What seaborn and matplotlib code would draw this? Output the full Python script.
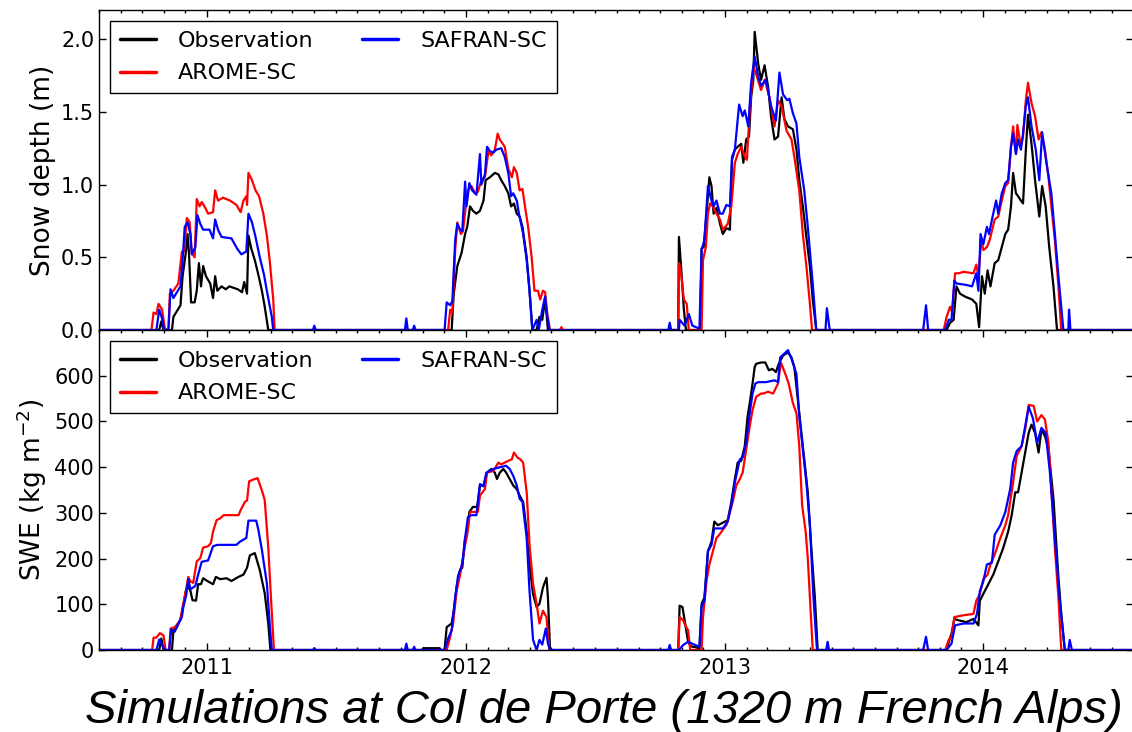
import matplotlib
matplotlib.use("Agg")
import matplotlib.pyplot as plt
import matplotlib.dates as mdates
import pandas as pd
import seaborn as sns

SERIES = ["Observation", "AROME-SC", "SAFRAN-SC"]
COLORS = ["black", "red", "blue"]
SEASON_STARTS = ["2010-10-01", "2011-10-01", "2012-10-01", "2013-10-01"]
X_START, X_END = "2010-08-01", "2014-08-01"
TITLE = "Simulations at Col de Porte (1320 m French Alps)"

# Snow depth (m): (days since 1 October, value) for each winter
obs_hs_1011 = [(24, 0), (27, .06), (30, 0), (42, 0), (44, .09), (49, .13), (54, .17), (57, .37), (62, .55), (64, .66),
               (66, .53), (69, .19), (74, .19), (77, .27), (80, .46), (83, .30), (86, .44), (90, .37), (96, .32),
               (100, .22), (103, .37), (106, .27), (112, .30), (118, .28), (123, .30), (129, .29), (135, .28),
               (141, .26), (144, .33), (148, .25), (150, .65), (154, .56), (159, .48), (164, .38), (169, .27),
               (173, .16), (178, 0)]
arome_hs_1011 = [(13, 0), (16, .12), (20, .11), (23, .18), (28, .14), (32, .01), (37, 0), (39, .25), (44, .27),
                 (51, .32), (56, .54), (59, .54), (63, .77), (67, .74), (70, .53), (74, .50), (77, .90), (81, .85),
                 (84, .88), (89, .84), (93, .80), (100, .81), (103, .96), (107, .89), (114, .91), (124, .89),
                 (133, .86), (139, .81), (143, .89), (147, .92), (148, .86), (150, 1.08), (155, 1.03), (160, .96),
                 (165, .92), (171, .80), (176, .65), (180, .48), (185, .21), (187, 0)]
safran_hs_1011 = [(20, 0), (24, .14), (28, .08), (31, 0), (37, 0), (40, .28), (44, .22), (49, .26), (54, .30),
                  (57, .48), (60, .71), (64, .74), (68, .66), (70, .52), (75, .57), (78, .79), (82, .73), (86, .69),
                  (95, .69), (100, .63), (103, .76), (107, .69), (112, .64), (126, .63), (134, .56), (140, .52),
                  (147, .54), (150, .80), (155, .74), (160, .64), (166, .50), (172, .38), (176, .27), (183, .09),
                  (185, 0), (241, 0), (243, .03), (245, 0)]

obs_hs_1112 = [(72, 0), (75, .25), (80, .44), (86, .53), (91, .66), (94, .71), (98, .85), (102, .82), (107, .80),
               (112, .82), (117, .89), (120, 1.03), (126, 1.05), (133, 1.08), (138, 1.07), (142, 1.03), (147, .99),
               (152, .94), (156, .85), (160, .87), (164, .80), (168, .78), (172, .71), (178, .50), (182, .27),
               (186, 0), (192, 0), (196, .09), (200, .07), (204, .21), (206, .11), (208, 0)]
arome_hs_1112 = [(67, 0), (70, .14), (73, .12), (77, .55), (80, .74), (85, .66), (88, .68), (92, .85), (95, .96),
                 (100, .99), (105, .94), (109, .95), (114, 1.03), (119, 1.05), (124, 1.23), (128, 1.20), (133, 1.24),
                 (137, 1.35), (140, 1.31), (147, 1.26), (152, 1.11), (157, 1.05), (160, 1.12), (164, 1.08),
                 (168, .96), (172, .97), (175, .87), (180, .71), (185, .50), (189, .27), (194, .27), (197, .21),
                 (201, .27), (204, .26), (207, .11), (211, 0), (225, 0), (227, .02), (229, 0)]
safran_hs_1112 = [(6, 0), (8, .08), (10, 0), (17, 0), (19, .03), (21, 0), (62, 0), (65, .19), (70, .17), (73, .20),
                  (77, .62), (80, .73), (84, .69), (87, .68), (91, 1.02), (93, .85), (97, 1.01), (101, .96),
                  (107, .93), (112, 1.21), (114, 1.00), (119, 1.07), (122, 1.26), (126, 1.23), (131, 1.22),
                  (135, 1.24), (142, 1.25), (147, 1.19), (152, 1.08), (156, .92), (159, .94), (164, .89), (167, .80),
                  (171, .71), (173, .66), (178, .48), (182, .27), (186, 0), (192, .07), (195, 0), (200, .14),
                  (204, .23), (207, .10), (210, 0)]

obs_hs_1213 = [(26, 0), (27, .64), (30, .44), (34, .14), (37, 0), (57, 0), (59, .56), (62, .57), (66, .80),
               (70, 1.05), (73, .99), (76, .80), (80, .84), (85, .73), (89, .66), (94, .70), (99, .69), (102, 1.17),
               (106, 1.24), (110, 1.26), (115, 1.28), (118, 1.15), (122, 1.31), (126, 1.33), (129, 1.60),
               (132, 1.72), (134, 2.05), (139, 1.83), (143, 1.72), (148, 1.82), (153, 1.67), (157, 1.47),
               (162, 1.31), (167, 1.33), (172, 1.60), (176, 1.45), (181, 1.40), (188, 1.38), (193, 1.24),
               (197, 1.03), (202, .85), (207, .64), (212, .44), (216, .21), (221, 0)]
arome_hs_1213 = [(26, 0), (27, .46), (30, .39), (34, .21), (38, .18), (41, 0), (59, 0), (61, .48), (65, .57),
                 (68, .80), (71, .87), (75, .85), (80, .80), (85, .76), (89, .69), (96, .73), (101, .85), (106, 1.15),
                 (110, 1.21), (115, 1.26), (120, 1.19), (123, 1.17), (127, 1.51), (132, 1.81), (136, 1.76),
                 (143, 1.65), (148, 1.72), (155, 1.60), (162, 1.40), (167, 1.58), (172, 1.54), (179, 1.37),
                 (186, 1.31), (190, 1.19), (197, .96), (202, .66), (207, .44), (212, .18), (215, 0)]
safran_hs_1213 = [(12, 0), (14, .05), (16, 0), (27, 0), (28, .07), (35, .03), (41, .11), (46, .03), (56, .01),
                  (59, .55), (63, .62), (68, .99), (73, .89), (76, .85), (80, .89), (85, .80), (89, .80), (94, .86),
                  (99, .85), (102, 1.19), (106, 1.24), (112, 1.55), (117, 1.47), (120, 1.51), (125, 1.40),
                  (129, 1.70), (134, 1.88), (139, 1.74), (143, 1.68), (150, 1.72), (157, 1.54), (164, 1.44),
                  (169, 1.77), (174, 1.62), (180, 1.58), (183, 1.59), (188, 1.49), (193, 1.42), (197, 1.19),
                  (204, .96), (209, .71), (216, .32), (221, 0), (234, 0), (236, .15), (240, 0)]

obs_hs_1314 = [(40, 0), (45, .05), (50, .07), (54, .30), (59, .25), (66, .23), (76, .21), (82, .18), (86, .02),
               (90, .37), (94, .25), (98, .41), (102, .30), (108, .46), (113, .48), (118, .57), (123, .66),
               (127, .69), (131, .85), (134, 1.08), (138, .94), (141, .92), (145, .89), (148, .87), (152, 1.24),
               (155, 1.48), (160, 1.28), (165, 1.03), (171, .78), (175, .99), (180, .85), (185, .57), (191, .30),
               (196, 0)]
arome_hs_1314 = [(36, 0), (40, .09), (45, .16), (48, .12), (52, .39), (57, .39), (64, .40), (78, .39), (82, .45),
                 (85, .37), (89, .62), (92, .55), (97, .57), (101, .62), (108, .76), (113, .78), (118, .89),
                 (123, .99), (127, 1.01), (131, 1.26), (134, 1.40), (138, 1.21), (140, 1.41), (145, 1.26),
                 (148, 1.33), (152, 1.58), (155, 1.70), (160, 1.56), (165, 1.47), (170, 1.31), (174, 1.36),
                 (179, 1.24), (184, 1.05), (188, .85), (193, .62), (198, .30), (202, 0)]
safran_hs_1314 = [(7, 0), (11, .17), (14, 0), (38, 0), (43, .07), (47, .07), (51, .34), (54, .32), (68, .31),
                  (76, .30), (82, .39), (85, .27), (88, .66), (92, .59), (97, .71), (100, .66), (105, .78),
                  (110, .89), (113, .80), (118, .94), (123, 1.01), (127, 1.03), (131, 1.26), (134, 1.35),
                  (138, 1.21), (141, 1.31), (145, 1.24), (148, 1.35), (152, 1.54), (155, 1.60), (160, 1.40),
                  (166, 1.24), (171, 1.03), (175, 1.36), (181, 1.15), (188, .94), (193, .66), (198, .37), (205, 0),
                  (212, 0), (213, .14), (215, 0)]

# Snow water equivalent (kg m-2): (days since 1 October, value) for each winter
obs_swe_1011 = [(24, 0), (27, 25), (30, 0), (42, 0), (44, 43), (49, 50), (54, 68), (58, 97), (62, 133), (65, 138),
                (68, 130), (71, 109), (76, 108), (79, 144), (83, 144), (86, 157), (93, 150), (100, 144), (104, 160),
                (110, 155), (119, 157), (126, 151), (136, 160), (143, 165), (148, 180), (152, 207), (159, 212),
                (166, 175), (173, 124), (178, 58), (181, 0)]
arome_swe_1011 = [(14, 0), (16, 27), (20, 27), (25, 37), (30, 32), (33, 0), (38, 0), (40, 47), (46, 50), (54, 65),
                  (57, 94), (62, 133), (65, 160), (68, 150), (72, 147), (77, 194), (82, 201), (86, 224), (93, 227),
                  (97, 234), (100, 259), (105, 284), (110, 288), (115, 295), (136, 295), (139, 306), (145, 324),
                  (148, 327), (151, 369), (157, 373), (163, 376), (169, 349), (173, 328), (178, 225), (182, 109),
                  (186, 0)]
safran_swe_1011 = [(20, 0), (24, 23), (28, 11), (32, 0), (38, 0), (41, 45), (46, 40), (51, 58), (56, 72), (58, 94),
                   (62, 119), (65, 155), (68, 133), (75, 140), (79, 165), (84, 193), (93, 196), (100, 227),
                   (106, 230), (133, 230), (138, 237), (147, 245), (150, 283), (161, 283), (164, 263), (169, 219),
                   (176, 146), (180, 58), (183, 0), (241, 0), (243, 4), (245, 0)]

obs_swe_1112 = [(30, 0), (32, 4), (55, 4), (57, 0), (62, 0), (65, 50), (72, 58), (75, 86), (79, 137), (84, 176),
                (87, 180), (91, 245), (94, 259), (97, 302), (102, 313), (108, 313), (112, 360), (117, 360),
                (122, 388), (128, 396), (133, 388), (136, 374), (140, 388), (145, 396), (149, 388), (154, 374),
                (159, 360), (164, 352), (168, 338), (173, 324), (178, 259), (182, 187), (187, 122), (192, 94),
                (196, 101), (201, 137), (206, 158), (208, 115), (211, 0)]
arome_swe_1112 = [(65, 0), (70, 29), (74, 58), (79, 129), (84, 165), (91, 230), (94, 252), (98, 302), (109, 302),
                  (112, 338), (119, 352), (122, 388), (131, 392), (138, 410), (142, 406), (152, 414), (157, 417),
                  (160, 432), (165, 421), (169, 417), (173, 410), (178, 345), (182, 230), (187, 144), (192, 101),
                  (196, 58), (201, 86), (206, 72), (210, 0)]
safran_swe_1112 = [(6, 0), (8, 14), (10, 0), (17, 0), (19, 7), (21, 0), (62, 0), (67, 25), (72, 43), (77, 115),
                   (81, 162), (87, 187), (91, 245), (95, 291), (100, 295), (107, 295), (112, 363), (117, 358),
                   (121, 388), (131, 396), (138, 399), (149, 403), (154, 396), (159, 381), (164, 360), (168, 331),
                   (172, 324), (178, 245), (182, 129), (187, 22), (192, 0), (196, 22), (200, 12), (205, 47),
                   (208, 14), (211, 0)]

obs_swe_1213 = [(26, 0), (28, 97), (32, 94), (35, 65), (40, 18), (44, 8), (56, 4), (59, 101), (63, 115), (68, 216),
                (73, 237), (77, 281), (82, 273), (87, 277), (92, 281), (96, 284), (101, 324), (106, 374), (110, 410),
                (115, 414), (120, 446), (124, 511), (127, 540), (131, 583), (134, 619), (136, 626), (143, 629),
                (149, 629), (154, 612), (159, 615), (164, 608), (168, 626), (174, 644), (181, 651), (186, 640),
                (190, 619), (195, 547), (200, 475), (204, 417), (209, 345), (214, 223), (219, 115), (223, 0)]
arome_swe_1213 = [(26, 0), (28, 72), (33, 65), (36, 54), (40, 43), (43, 0), (59, 0), (61, 72), (66, 151), (70, 187),
                  (75, 216), (80, 245), (84, 252), (89, 263), (94, 273), (99, 302), (103, 324), (108, 360),
                  (113, 374), (117, 388), (122, 439), (127, 489), (131, 525), (136, 554), (143, 561), (146, 561),
                  (153, 565), (160, 561), (167, 583), (171, 629), (178, 601), (182, 583), (188, 540), (193, 518),
                  (197, 446), (201, 317), (206, 259), (209, 201), (212, 115), (216, 0)]
safran_swe_1213 = [(12, 0), (14, 11), (16, 0), (27, 0), (33, 11), (40, 18), (47, 13), (56, 7), (59, 94), (63, 108),
                   (68, 216), (73, 230), (77, 266), (84, 266), (89, 266), (96, 281), (101, 317), (106, 367),
                   (113, 417), (117, 421), (122, 453), (127, 518), (131, 561), (135, 583), (139, 586), (150, 586),
                   (162, 590), (167, 586), (170, 640), (175, 647), (181, 656), (186, 637), (193, 604), (197, 511),
                   (202, 439), (207, 367), (212, 273), (217, 115), (222, 0), (235, 0), (237, 18), (239, 0)]

obs_swe_1314 = [(40, 0), (44, 22), (47, 36), (51, 68), (57, 65), (68, 61), (78, 68), (85, 54), (87, 108), (94, 129),
                (99, 144), (106, 165), (113, 194), (120, 223), (127, 259), (132, 295), (137, 345), (141, 345),
                (146, 388), (151, 432), (156, 475), (160, 493), (165, 475), (170, 432), (174, 482), (179, 468),
                (184, 439), (191, 331), (198, 158), (202, 79), (207, 0)]
arome_swe_1314 = [(38, 0), (43, 22), (47, 29), (51, 72), (64, 76), (78, 79), (82, 108), (87, 122), (92, 155),
                  (98, 165), (102, 187), (108, 209), (116, 245), (123, 273), (127, 295), (134, 367), (139, 424),
                  (146, 446), (151, 482), (156, 536), (163, 534), (168, 500), (174, 514), (179, 504), (184, 453),
                  (188, 353), (193, 223), (198, 115), (202, 0)]
safran_swe_1314 = [(7, 0), (11, 29), (14, 0), (40, 0), (47, 14), (52, 54), (64, 58), (78, 58), (83, 79), (87, 129),
                   (92, 151), (97, 187), (104, 191), (108, 252), (116, 273), (123, 302), (130, 353), (134, 410),
                   (139, 435), (146, 446), (151, 489), (156, 532), (162, 507), (168, 453), (174, 486), (180, 475),
                   (186, 388), (193, 245), (200, 108), (207, 0), (212, 0), (214, 22), (217, 0)]

DEPTH = {
    "Observation": [obs_hs_1011, obs_hs_1112, obs_hs_1213, obs_hs_1314],
    "AROME-SC": [arome_hs_1011, arome_hs_1112, arome_hs_1213, arome_hs_1314],
    "SAFRAN-SC": [safran_hs_1011, safran_hs_1112, safran_hs_1213, safran_hs_1314],
}
SWE = {
    "Observation": [obs_swe_1011, obs_swe_1112, obs_swe_1213, obs_swe_1314],
    "AROME-SC": [arome_swe_1011, arome_swe_1112, arome_swe_1213, arome_swe_1314],
    "SAFRAN-SC": [safran_swe_1011, safran_swe_1112, safran_swe_1213, safran_swe_1314],
}


def to_frame(table):
    """Long-form frame: one row per (series, date), zero outside the winters."""
    rows = []
    for name in SERIES:
        rows.append((name, pd.Timestamp(X_START), 0.0))
        for start, pts in zip(SEASON_STARTS, table[name]):
            t0 = pd.Timestamp(start)
            for day, val in pts:
                rows.append((name, t0 + pd.Timedelta(days=day), float(val)))
        rows.append((name, pd.Timestamp(X_END), 0.0))
    return pd.DataFrame(rows, columns=["series", "date", "value"])


sns.set_theme(style="ticks", rc={
    "xtick.direction": "in", "ytick.direction": "in",
    "xtick.top": True, "ytick.right": True,
    "axes.edgecolor": "black", "axes.linewidth": 1.0,
    "text.color": "black", "axes.labelcolor": "black",
    "xtick.color": "black", "ytick.color": "black",
    "xtick.major.size": 5, "xtick.minor.size": 2.5,
    "ytick.major.size": 5, "xtick.major.width": 1.0, "ytick.major.width": 1.0,
    "xtick.minor.width": 1.0,
})
plt.rcParams["font.family"] = ["DejaVu Sans"]
plt.rcParams["mathtext.default"] = "regular"

fig, (ax1, ax2) = plt.subplots(2, 1, figsize=(11.32, 7.32), dpi=100, sharex=True)
fig.subplots_adjust(left=0.0875, right=1.0013, top=0.9863, bottom=0.112, hspace=0)

for ax, table in ((ax1, DEPTH), (ax2, SWE)):
    sns.lineplot(data=to_frame(table), x="date", y="value", hue="series",
                 hue_order=SERIES, palette=COLORS, estimator=None,
                 linewidth=1.6, ax=ax)
    handles, labels = ax.get_legend_handles_labels()
    leg = ax.legend(handles, labels, loc="upper left", ncol=2, fontsize=16,
                    frameon=True, fancybox=False, edgecolor="black", framealpha=1,
                    handlelength=1.6, handletextpad=1.0, columnspacing=2.2,
                    borderpad=0.45, labelspacing=0.55, borderaxespad=0.5)
    leg.get_frame().set_linewidth(1.0)
    for ln in leg.get_lines():
        ln.set_linewidth(2.5)
    ax.set_xlabel("")
    ax.tick_params(axis="both", labelsize=15)

ax1.set_ylim(0, 2.2)
ax1.set_yticks([0.0, 0.5, 1.0, 1.5, 2.0])
ax1.set_yticklabels(["0.0", "0.5", "1.0", "1.5", "2.0"])
ax1.set_ylabel("Snow depth (m)", fontsize=19)
ax1.tick_params(axis="x", which="both", bottom=False, labelbottom=False)

ax2.set_ylim(0, 700)
ax2.set_yticks([0, 100, 200, 300, 400, 500, 600])
ax2.set_ylabel("SWE (kg m$^{-2}$)", fontsize=19)

ax2.set_xlim(pd.Timestamp(X_START), pd.Timestamp(X_END))
ax2.xaxis.set_major_locator(mdates.YearLocator())
ax2.xaxis.set_minor_locator(mdates.MonthLocator())
ax2.xaxis.set_major_formatter(mdates.DateFormatter("%Y"))
ax2.tick_params(axis="x", which="major", pad=6)

fig.text(85 / 1132, 9 / 732, TITLE, fontsize=34, style="italic", color="black",
         family=["Liberation Sans", "DejaVu Sans"], ha="left", va="baseline")

fig.savefig("out.png", dpi=100)
